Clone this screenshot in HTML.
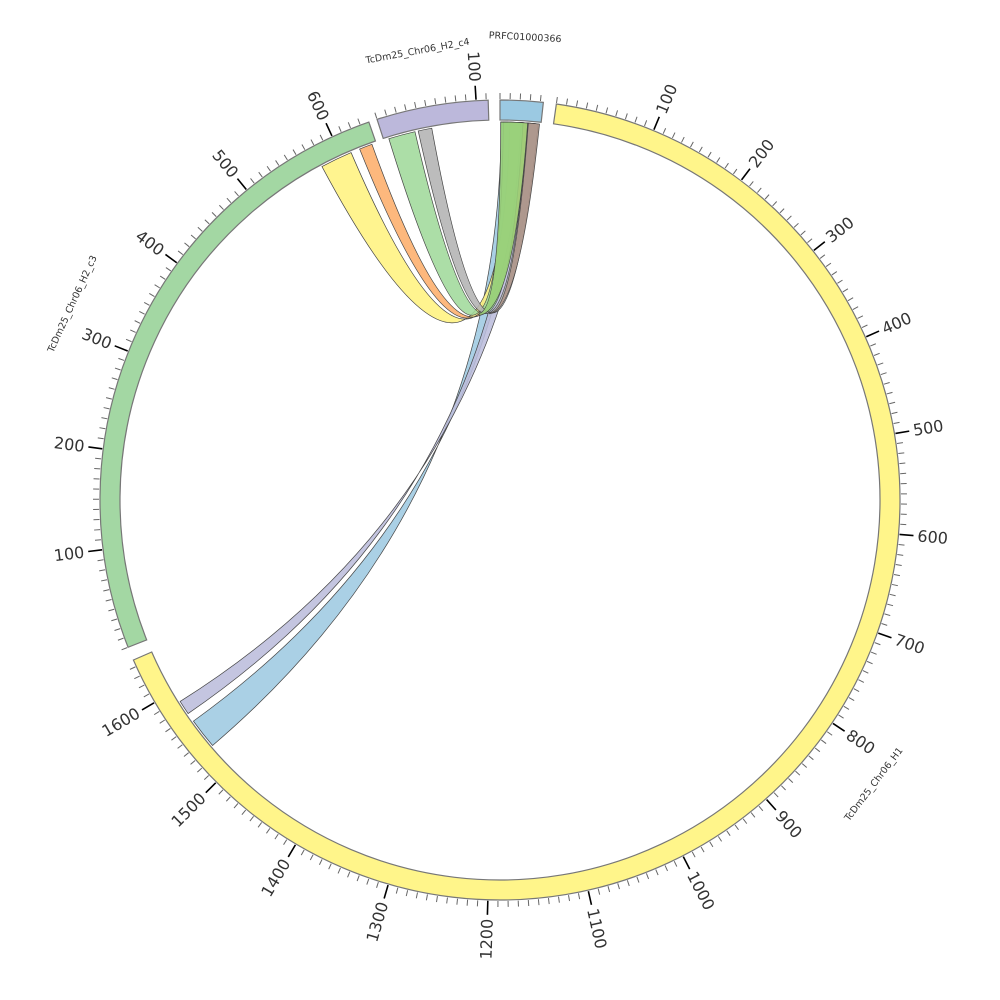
<!DOCTYPE html>
<html><head><meta charset="utf-8"><style>
html,body{margin:0;padding:0;background:#fff;}
svg{display:block;}
text{font-family:"DejaVu Sans","Liberation Sans",sans-serif;}
</style></head><body>
<svg id="s" width="1000" height="1000" viewBox="0 0 1000 1000" xmlns="http://www.w3.org/2000/svg"></svg>
<script>
var S=document.getElementById('s'),NS='http://www.w3.org/2000/svg';
var cx=500,cy=500,R1=380,R2=400,K=0.1447;
function P(t,r){var a=t*Math.PI/180;return [cx+r*Math.sin(a),cy-r*Math.cos(a)];}
function add(tag,at,txt){var e=document.createElementNS(NS,tag);for(var k in at)e.setAttribute(k,at[k]);if(txt)e.textContent=txt;S.appendChild(e);return e;}
function arc(t1,t2,r,sweep){var p=P(t2,r);return 'A'+r+' '+r+' 0 '+(Math.abs(t2-t1)>180?1:0)+' '+sweep+' '+p[0].toFixed(2)+' '+p[1].toFixed(2);}
var segs=[
 {n:'TcDm25_Chr06_H1',s:8.1,len:1647,c:'#fff58a',lr:470},
 {n:'TcDm25_Chr06_H2_c3',s:248.4,len:639,c:'#a3d7a3',lr:470},
 {n:'TcDm25_Chr06_H2_c4',s:342.1,len:112,c:'#bcb8db',lr:456,la:349.6},
 {n:'PRFC01000366',s:0.0,len:43,c:'#9bc9e2',lr:463}
];
function ribbon(a1,a2,b1,b2,col){
 var A1=P(a1,378),B2=P(b2,378);
 var d='M'+A1[0]+' '+A1[1]+arc(a1,a2,378,1)+'Q'+cx+' '+cy+' '+B2[0]+' '+B2[1]+
   arc(b2,b1,378,0)+'Q'+cx+' '+cy+' '+A1[0]+' '+A1[1]+'Z';
 add('path',{d:d,fill:col,'fill-opacity':0.88,stroke:'#444','stroke-width':0.7});
}
function half(b1,b2,a1,a2,col){
 var A1=P(a1,378),A2=P(a2,378),B1=P(b1,378),B2=P(b2,378);
 var m1=[(A2[0]+2*cx+B1[0])/4,(A2[1]+2*cy+B1[1])/4];
 var m2=[(A1[0]+2*cx+B2[0])/4,(A1[1]+2*cy+B2[1])/4];
 var c1=[(cx+B1[0])/2,(cy+B1[1])/2],c2=[(cx+B2[0])/2,(cy+B2[1])/2];
 var d='M'+B1[0]+' '+B1[1]+arc(b1,b2,378,1)+'Q'+c2[0]+' '+c2[1]+' '+m2[0]+' '+m2[1]+'L'+m1[0]+' '+m1[1]+'Q'+c1[0]+' '+c1[1]+' '+B1[0]+' '+B1[1]+'Z';
 add('path',{d:d,fill:col,'fill-opacity':0.9,stroke:'#444','stroke-width':0.7});
}
ribbon(229.5,234.2,0.2,3.8,'#9ecae1');
ribbon(235.6,237.8,3.0,5.8,'#bcbddc');
ribbon(331.9,336.8,1.5,3.5,'#fff380');
ribbon(338.2,340.2,3.2,4.2,'#fdae6b');
ribbon(342.9,347.0,0.5,3.5,'#a1d99b');
ribbon(347.5,349.6,4.2,5.8,'#b3b3b3');
half(0.1,4.2,343,347,'#98cf78');
half(4.3,6.0,347.5,349.6,'#ad9589');
segs.forEach(function(g){
 var e=g.s+g.len*K;
 var o1=P(g.s,R2),i2=P(e,R1);
 var d='M'+o1[0]+' '+o1[1]+arc(g.s,e,R2,1)+'L'+i2[0]+' '+i2[1]+arc(e,g.s,R1,0)+'Z';
 add('path',{d:d,fill:g.c,stroke:'#777','stroke-width':1.2});
 for(var u=0;u<=g.len;u+=10){
  var t=g.s+u*K,maj=(u%100==0&&u>0);
  var p1=P(t,R2+1),p2=P(t,R2+(maj?15:7));
  add('line',{x1:p1[0],y1:p1[1],x2:p2[0],y2:p2[1],stroke:maj?'#000':'#666','stroke-width':maj?1.6:1});
  if(maj){
   var q=P(t,R2+19),tt=((t%360)+360)%360,rot,anc;
   if(tt<=180){rot=tt-90;anc='start';}else{rot=tt-270;anc='end';}
   add('text',{x:q[0],y:q[1],'font-size':16,fill:'#333','text-anchor':anc,'dominant-baseline':'central',transform:'rotate('+rot+' '+q[0]+' '+q[1]+')'},String(u));
  }
 }
 var m=g.la||(g.s+e)/2,lp=P(m,g.lr),r2=(m>90&&m<270)?m-180:(m>=270?m-360:m);
 add('text',{x:lp[0],y:lp[1],'font-size':9.5,fill:'#333','text-anchor':'middle','dominant-baseline':'central',transform:'rotate('+r2+' '+lp[0]+' '+lp[1]+')'},g.n);
});
</script>
</body></html>
